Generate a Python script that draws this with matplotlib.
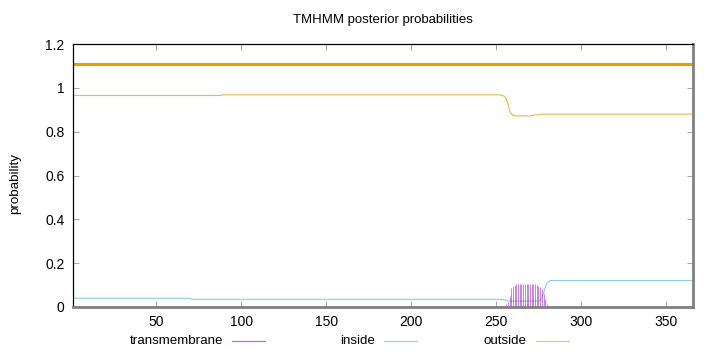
import numpy as np
import matplotlib
matplotlib.use("Agg")
import matplotlib.pyplot as plt
from matplotlib.lines import Line2D

plt.rcParams['font.family'] = ['Liberation Sans', 'DejaVu Sans']

# sequence length and the predicted topology bar (outside over the whole chain)
seq_len = 366
topology_level = 1.11

# posterior probabilities as runs of (first residue, last residue, value)
outside_runs = [
    (1, 88, 0.965), (89, 252, 0.968), (253, 253, 0.967), (254, 254, 0.965),
    (255, 255, 0.96), (256, 256, 0.95), (257, 257, 0.93), (258, 258, 0.895),
    (259, 259, 0.882), (260, 260, 0.876), (261, 270, 0.872), (271, 272, 0.874),
    (273, 276, 0.877), (277, 277, 0.879), (278, 366, 0.88),
]
inside_runs = [
    (1, 70, 0.04), (71, 252, 0.035), (253, 254, 0.034), (255, 255, 0.032),
    (256, 256, 0.03), (257, 275, 0.027), (276, 276, 0.03), (277, 277, 0.04),
    (278, 278, 0.06), (279, 279, 0.09), (280, 280, 0.108), (281, 281, 0.116),
    (282, 366, 0.121),
]
tm_runs = [
    (1, 252, 0.0), (253, 253, 0.002), (254, 254, 0.003), (255, 255, 0.006),
    (256, 256, 0.012), (257, 257, 0.025), (258, 258, 0.05), (259, 259, 0.085),
    (260, 260, 0.095), (261, 261, 0.1), (262, 272, 0.104), (273, 273, 0.103),
    (274, 274, 0.1), (275, 275, 0.095), (276, 276, 0.09), (277, 277, 0.08),
    (278, 278, 0.06), (279, 279, 0.035), (280, 280, 0.015), (281, 281, 0.005),
    (282, 366, 0.0),
]

xticks = [50, 100, 150, 200, 250, 300, 350]
yticks = [0, 0.2, 0.4, 0.6, 0.8, 1.0, 1.2]
ytick_labels = ["0", "0.2", "0.4", "0.6", "0.8", "1", "1.2"]


def expand(runs):
    vals = []
    for a, b, v in runs:
        vals += [v] * (b - a + 1)
    return np.array(vals)


pos = np.arange(1, seq_len + 1)
outside = expand(outside_runs)
inside = expand(inside_runs)
tm = expand(tm_runs)

c_tm = '#9400D3'
c_in = '#56B4E9'
c_out = '#E69F00'

fig = plt.figure(figsize=(7.2, 3.52), dpi=100)
ax = fig.add_axes([73 / 720, 45 / 352, 620 / 720, 263 / 352])

ax.plot([1, seq_len], [topology_level, topology_level], color=c_out, lw=2.2, solid_capstyle='butt')
ax.plot(pos, outside, color='#EDB843', lw=0.8)
ax.plot(pos, inside, color='#8CCBEF', lw=0.8)
mask = tm > 0
ax.vlines(pos[mask], 0, tm[mask], color=c_tm, lw=0.7, alpha=0.5)

ax.set_xlim(1, seq_len)
ax.set_ylim(0, 1.2)
ax.set_xticks(xticks)
ax.set_yticks(yticks)
ax.set_yticklabels(ytick_labels)
ax.tick_params(direction='in', length=4, width=0.6, color='#999999', labelsize=10,
               top=True, right=True, pad=6)

for side in ['left', 'top']:
    ax.spines[side].set_color('black')
    ax.spines[side].set_linewidth(0.9)
for side in ['bottom', 'right']:
    ax.spines[side].set_color('#808080')
    ax.spines[side].set_linewidth(2)

fig.text(383 / 720, 1 - 20 / 352, 'TMHMM posterior probabilities', ha='center', va='center', fontsize=9.5)
fig.text(15 / 720, 1 - 184 / 352, 'probability', rotation=90, ha='center', va='center', fontsize=9.6)

# legend below the plot, text before the line sample
legend_items = [('transmembrane', c_tm), ('inside', c_in), ('outside', c_out)]
ly = 1 - 341 / 352
for i, (label, col) in enumerate(legend_items):
    x_end = 223 + 152 * i
    fig.text(x_end / 720, ly, label, ha='right', va='center', fontsize=9.6)
    fig.add_artist(Line2D([(x_end + 9) / 720, (x_end + 42) / 720], [ly, ly],
                          color=col, lw=0.9, alpha=0.6, transform=fig.transFigure))

fig.savefig('out.png', dpi=100)
